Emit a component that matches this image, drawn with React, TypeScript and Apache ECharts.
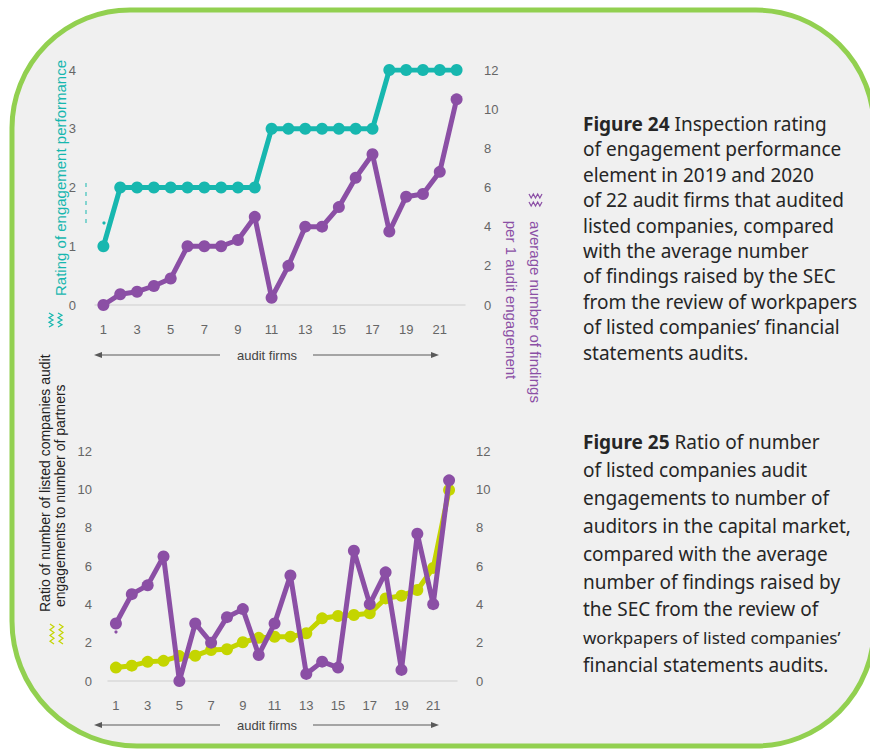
import React, { useEffect, useRef } from "react";
import * as echarts from "echarts";

// ---------- data ----------
const firms = ["1","2","3","4","5","6","7","8","9","10","11","12","13","14","15","16","17","18","19","20","21","22"];
// Figure 24
const ratingPerformance = [1, 2, 2, 2, 2, 2, 2, 2, 2, 2, 3, 3, 3, 3, 3, 3, 3, 4, 4, 4, 4, 4];
const findingsTop = [0, 0.55, 0.68, 0.97, 1.35, 3.0, 3.0, 3.0, 3.32, 4.5, 0.37, 2.0, 4.0, 4.0, 5.0, 6.5, 7.7, 3.75, 5.53, 5.67, 6.8, 10.5];
// Figure 25
const ratioEngagements = [0.7, 0.8, 1.0, 1.05, 1.3, 1.32, 1.62, 1.66, 2.02, 2.25, 2.31, 2.31, 2.49, 3.27, 3.39, 3.44, 3.53, 4.31, 4.45, 4.75, 5.9, 9.97];
const findingsBottom = [3.0, 4.53, 4.99, 6.5, 0, 3.0, 2.0, 3.33, 3.75, 1.36, 3.0, 5.51, 0.37, 1.01, 0.7, 6.8, 4.01, 5.67, 0.58, 7.68, 4.01, 10.47];

const fig24Lines = [
  "{b|Figure 24} Inspection rating",
  "of engagement performance",
  "element in 2019 and 2020",
  "of 22 audit firms that audited",
  "listed companies, compared",
  "with the average number",
  "of findings raised by the SEC",
  "from the review of workpapers",
  "of listed companies’ financial",
  "statements audits.",
];
const fig25Lines = [
  "{b|Figure 25} Ratio of number",
  "of listed companies audit",
  "engagements to number of",
  "auditors in the capital market,",
  "compared with the average",
  "number of findings raised by",
  "the SEC from the review of",
  "workpapers of listed companies’",
  "financial statements audits.",
];

const TEAL = "#17b7af";
const PURPLE = "#8b4fa5";
const LIME = "#c4d500";
const GRAY = "#666666";
const SANS = "'Liberation Sans', Arial, sans-serif";
const BODY = "'Noto Sans', 'Open Sans', sans-serif";

function zigzag(x0: number, y0: number, len: number, vertical: boolean, amp: number, n: number) {
  const pts: number[][] = [];
  for (let i = 0; i <= n; i++) {
    const t = (len * i) / n;
    const o = i % 2 === 0 ? -amp : amp;
    pts.push(vertical ? [x0 + o, y0 + t] : [x0 + t, y0 + o]);
  }
  return pts;
}

function arrowGroup(y: number) {
  const c = "#595959";
  return [
    { type: "line", shape: { x1: 100, y1: y, x2: 220, y2: y }, style: { stroke: c, lineWidth: 1 } },
    { type: "polygon", shape: { points: [[94, y], [102, y - 3], [102, y + 3]] }, style: { fill: c } },
    { type: "line", shape: { x1: 313, y1: y, x2: 433, y2: y }, style: { stroke: c, lineWidth: 1 } },
    { type: "polygon", shape: { points: [[439, y], [431, y - 3], [431, y + 3]] }, style: { fill: c } },
    {
      type: "text",
      style: { text: "audit firms", x: 267, y: y, textAlign: "center", textVerticalAlign: "middle", fill: "#444", font: `13px ${SANS}` },
    },
  ];
}

export default function App() {
  const ref = useRef<HTMLDivElement>(null);
  useEffect(() => {
    if (!ref.current) return;
    const chart = echarts.init(ref.current, null, { renderer: "svg" });

    const lineStyle = (color: string) => ({ color, width: 5 });
    const textLines: any[] = [];
    const rich = { b: { fontWeight: "bold", fontSize: 19, fontFamily: BODY, fill: "#262626" } };
    fig24Lines.forEach((t, i) => {
      textLines.push({
        type: "text",
        style: { text: t, x: 583, y: 124 + i * 25.4, textVerticalAlign: "middle", fill: "#262626", font: `19px ${BODY}`, rich },
      });
    });
    fig25Lines.forEach((t, i) => {
      const size = t.startsWith("workpapers") ? 17 : 19;
      textLines.push({
        type: "text",
        style: { text: t, x: 583, y: 442 + i * 27.9, textVerticalAlign: "middle", fill: "#262626", font: `${size}px ${BODY}`, rich },
      });
    });

    const option: any = {
      animation: false,
      backgroundColor: "#ffffff",
      graphic: [
        {
          type: "rect", z: -10,
          shape: { x: 12, y: 10, width: 862, height: 736, r: [118, 118, 118, 125] },
          style: { fill: "#f0f0f0", stroke: "#92d050", lineWidth: 5 },
        },
        // axis titles, Figure 24
        {
          type: "text", x: 60, y: 178, rotation: Math.PI / 2,
          style: { text: "Rating of engagement performance", x: 0, y: 0, textAlign: "center", textVerticalAlign: "middle", fill: TEAL, font: `15px ${SANS}` },
        },
        {
          type: "text", x: 535, y: 312, rotation: -Math.PI / 2,
          style: { text: "average number of findings", x: 0, y: 0, textAlign: "center", textVerticalAlign: "middle", fill: PURPLE, font: `15px ${SANS}` },
        },
        {
          type: "text", x: 511, y: 300, rotation: -Math.PI / 2,
          style: { text: "per 1 audit engagement", x: 0, y: 0, textAlign: "center", textVerticalAlign: "middle", fill: PURPLE, font: `15px ${SANS}` },
        },
        // axis titles, Figure 25
        {
          type: "text", x: 45, y: 612, rotation: Math.PI / 2,
          style: { text: "Ratio of number of listed companies audit", x: 0, y: 0, textAlign: "left", textVerticalAlign: "middle", fill: "#222", font: `14px ${SANS}` },
        },
        {
          type: "text", x: 60, y: 607, rotation: Math.PI / 2,
          style: { text: "engagements to number of partners", x: 0, y: 0, textAlign: "left", textVerticalAlign: "middle", fill: "#222", font: `14px ${SANS}` },
        },
        // legend-like zigzag marks
        { type: "polyline", shape: { points: zigzag(51, 313, 14, true, 2, 6) }, style: { stroke: TEAL, lineWidth: 1.2, fill: null } },
        { type: "polyline", shape: { points: zigzag(60, 313, 14, true, 2, 6) }, style: { stroke: TEAL, lineWidth: 1.2, fill: null } },
        { type: "polyline", shape: { points: zigzag(529, 196, 13, false, 2, 6) }, style: { stroke: PURPLE, lineWidth: 1.2, fill: null } },
        { type: "polyline", shape: { points: zigzag(529, 204, 13, false, 2, 6) }, style: { stroke: PURPLE, lineWidth: 1.2, fill: null } },
        { type: "polyline", shape: { points: zigzag(52, 624, 20, true, 2, 7) }, style: { stroke: LIME, lineWidth: 1.2, fill: null } },
        { type: "polyline", shape: { points: zigzag(61, 624, 20, true, 2, 7) }, style: { stroke: LIME, lineWidth: 1.2, fill: null } },
        // small stray marks
        { type: "line", shape: { x1: 86, y1: 183, x2: 86, y2: 226 }, style: { stroke: TEAL, lineWidth: 1, lineDash: [4, 5] } },
        { type: "circle", shape: { cx: 104, cy: 223, r: 1.6 }, style: { fill: TEAL } },
        { type: "circle", shape: { cx: 116, cy: 632, r: 1.6 }, style: { fill: PURPLE } },
        ...arrowGroup(355),
        ...arrowGroup(725),
        ...textLines,
      ],
      grid: [
        { left: 95, top: 70, width: 370, height: 235 },
        { left: 108, top: 451, width: 349, height: 230 },
      ],
      xAxis: [0, 1].map((g) => ({
        type: "category",
        gridIndex: g,
        data: firms,
        boundaryGap: true,
        axisLine: { show: true, lineStyle: { color: "#d9d9d9", width: 1.5 } },
        axisTick: { show: false },
        axisLabel: { interval: 1, color: GRAY, fontSize: 13, fontFamily: SANS, margin: 18 },
        splitLine: { show: false },
      })),
      yAxis: [
        { gridIndex: 0, position: "left", min: 0, max: 4, interval: 1 },
        { gridIndex: 0, position: "right", min: 0, max: 12, interval: 2 },
        { gridIndex: 1, position: "left", min: 0, max: 12, interval: 2 },
        { gridIndex: 1, position: "right", min: 0, max: 12, interval: 2 },
      ].map((a, i) => ({
        type: "value",
        ...a,
        axisLine: { show: false },
        axisTick: { show: false },
        splitLine: { show: false },
        axisLabel: { color: GRAY, fontSize: 13, fontFamily: SANS, margin: i === 2 ? 16 : 19 },
      })),
      series: [
        { name: "Rating", xAxisIndex: 0, yAxisIndex: 0, data: ratingPerformance, color: TEAL, z: 3 },
        { name: "Findings 24", xAxisIndex: 0, yAxisIndex: 1, data: findingsTop, color: PURPLE, z: 4 },
        { name: "Ratio", xAxisIndex: 1, yAxisIndex: 2, data: ratioEngagements, color: LIME, z: 3 },
        { name: "Findings 25", xAxisIndex: 1, yAxisIndex: 3, data: findingsBottom, color: PURPLE, z: 4 },
      ].map((s) => ({
        type: "line",
        name: s.name,
        xAxisIndex: s.xAxisIndex,
        yAxisIndex: s.yAxisIndex,
        data: s.data,
        z: s.z,
        symbol: "circle",
        symbolSize: 12,
        showSymbol: true,
        showAllSymbol: true,
        itemStyle: { color: s.color },
        lineStyle: lineStyle(s.color),
      })),
    };
    chart.setOption(option);
    return () => chart.dispose();
  }, []);
  return <div ref={ref} style={{ position: "absolute", left: 0, top: 0, width: 870, height: 751 }} />;
}
